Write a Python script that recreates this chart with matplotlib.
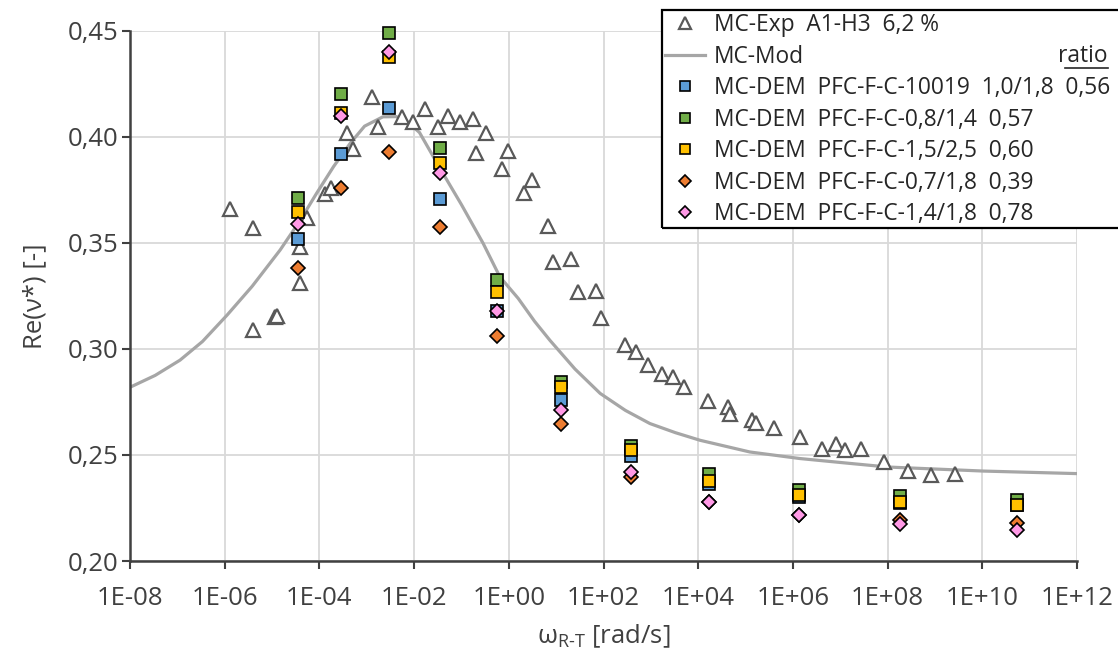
import math
import matplotlib
matplotlib.use("Agg")
import matplotlib.pyplot as plt
from matplotlib.lines import Line2D
from matplotlib.patches import Rectangle
from matplotlib.ticker import FixedLocator, NullLocator, FuncFormatter

plt.rcParams['font.family'] = ['Open Sans', 'DejaVu Sans']
plt.rcParams['mathtext.fontset'] = 'custom'
plt.rcParams['mathtext.rm'] = 'Open Sans'
plt.rcParams['mathtext.it'] = 'Open Sans'

# MC-Exp A1-H3 (triangles)
exp_w = [1.29e-6, 3.98e-6, 3.89e-6, 1.17e-5, 1.26e-5, 3.89e-5, 3.98e-5, 5.37e-5,
         1.32e-4, 1.78e-4, 3.80e-4, 5.25e-4, 1.32e-3, 1.74e-3, 5.50e-3, 9.55e-3,
         1.70e-2, 3.24e-2, 5.25e-2, 9.33e-2, 0.178, 0.204, 0.324, 0.708, 0.955,
         2.09, 3.16, 6.76, 8.71, 20.4, 29.5, 69.2, 87.1, 282, 490, 851, 1700,
         2880, 5010, 1.62e4, 4.17e4, 4.79e4, 1.38e5, 1.66e5, 4.07e5, 1.41e6,
         4.17e6, 8.13e6, 1.29e7, 2.75e7, 8.32e7, 2.75e8, 8.32e8, 2.63e9]
exp_v = [0.366, 0.357, 0.309, 0.3148, 0.3155, 0.348, 0.331, 0.3615,
         0.373, 0.3757, 0.402, 0.394, 0.4186, 0.4044, 0.4094, 0.407,
         0.413, 0.4047, 0.4098, 0.407, 0.4083, 0.3925, 0.402, 0.3846, 0.3933,
         0.3733, 0.3796, 0.358, 0.341, 0.3426, 0.327, 0.3274, 0.3146, 0.302,
         0.2983, 0.2923, 0.288, 0.2868, 0.282, 0.2755, 0.2724, 0.2695, 0.2664,
         0.2651, 0.2625, 0.2585, 0.253, 0.255, 0.2522, 0.2527, 0.2467, 0.2423,
         0.2404, 0.2409]

# MC-Mod (model curve)
mod_w = [1e-8, 3.4e-8, 1.14e-7, 3.4e-7, 1.12e-6, 3.8e-6, 1.48e-5, 3.9e-5,
         8.7e-5, 2.0e-4, 4.47e-4, 9.0e-4, 2.19e-3, 4.2e-3, 6.46e-3, 1.3e-2,
         3.55e-2, 0.10, 0.288, 0.646, 1.58, 3.5, 7.41, 25, 85.1, 290, 955,
         3300, 1.1e4, 1.23e5, 1.41e6, 1.62e7, 1.02e8, 1.05e10, 1e12]
mod_v = [0.2819, 0.2875, 0.2947, 0.3035, 0.3159, 0.3295, 0.3466, 0.3605,
         0.3733, 0.3860, 0.3969, 0.4050, 0.4094, 0.4095, 0.4080, 0.4020,
         0.3850, 0.3680, 0.3497, 0.3340, 0.3238, 0.3130, 0.3040, 0.2905,
         0.2790, 0.2710, 0.2648, 0.2605, 0.2569, 0.2514, 0.2483, 0.2460,
         0.2443, 0.2424, 0.2412]

# MC-DEM series
dem_w = [3.47e-5, 2.82e-4, 2.88e-3, 3.55e-2, 0.575, 12.6, 380, 1.70e4, 1.35e6, 1.86e8, 5.5e10]
dem_10019 = [0.3517, 0.3917, 0.4137, 0.3706, 0.318, 0.2758, 0.2495, 0.2362, 0.230, 0.2275, 0.2265]
dem_08_14 = [0.371, 0.420, 0.4488, 0.3948, 0.3324, 0.2842, 0.2544, 0.2408, 0.2337, 0.2308, 0.2289]
dem_15_25 = [0.3646, 0.411, 0.4377, 0.3874, 0.3266, 0.282, 0.2524, 0.2376, 0.2310, 0.2278, 0.2263]
dem_07_18 = [0.338, 0.3757, 0.393, 0.3575, 0.306, 0.2648, 0.2396, 0.2278, 0.2215, 0.2192, 0.2178]
dem_14_18 = [0.359, 0.4098, 0.440, 0.3827, 0.3178, 0.271, 0.242, 0.2278, 0.2215, 0.2176, 0.2145]

labels = ['MC-Exp  A1-H3  6,2 %',
          'MC-Mod',
          'MC-DEM  PFC-F-C-10019  1,0/1,8  0,56',
          'MC-DEM  PFC-F-C-0,8/1,4  0,57',
          'MC-DEM  PFC-F-C-1,5/2,5  0,60',
          'MC-DEM  PFC-F-C-0,7/1,8  0,39',
          'MC-DEM  PFC-F-C-1,4/1,8  0,78']

x_ticks = [1e-8, 1e-6, 1e-4, 1e-2, 1e0, 1e2, 1e4, 1e6, 1e8, 1e10, 1e12]
y_ticks = [0.20, 0.25, 0.30, 0.35, 0.40, 0.45]

W, H = 1118, 655
fig = plt.figure(figsize=(W / 100, H / 100), dpi=100)
ax = fig.add_axes([130 / W, 1 - 561 / H, (1077 - 130) / W, (561 - 30.7) / H])

ax.set_xscale('log')
ax.set_xlim(1e-8, 1e12)
ax.set_ylim(0.20, 0.45)

h_exp, = ax.plot(exp_w, exp_v, ls='none', marker='^', ms=10, mfc='white',
                 mec='#595959', mew=1.6, zorder=3, clip_on=False)
h_mod, = ax.plot(mod_w, mod_v, color='#A6A6A6', lw=2.3, zorder=2)

dem_series = [dem_10019, dem_08_14, dem_15_25, dem_07_18, dem_14_18]
dem_colors = ['#5B9BD5', '#70AD47', '#FFC000', '#ED7D31', '#FF99E6']
dem_markers = ['s', 's', 's', 'D', 'D']
dem_sizes = [8.8, 8.8, 8.8, 7.0, 7.0]
dem_handles = []
for vals, c, m, s in zip(dem_series, dem_colors, dem_markers, dem_sizes):
    h, = ax.plot(dem_w, vals, ls='none', marker=m, ms=s, mfc=c, mec='black',
                 mew=1.2, zorder=4, clip_on=False)
    dem_handles.append(h)

ax.xaxis.set_major_locator(FixedLocator(x_ticks))
ax.xaxis.set_minor_locator(NullLocator())
ax.xaxis.set_major_formatter(FuncFormatter(lambda v, p: '1E%+03d' % round(math.log10(v))))
ax.set_yticks(y_ticks)
ax.yaxis.set_major_formatter(FuncFormatter(lambda v, p: ('%.2f' % v).replace('.', ',')))

ax.grid(True, color='#D9D9D9', lw=1.3, zorder=0)
ax.set_axisbelow(True)
for s in ['top', 'right']:
    ax.spines[s].set_visible(False)
for s in ['left', 'bottom']:
    ax.spines[s].set_color('#404040')
    ax.spines[s].set_linewidth(1.8)
ax.tick_params(axis='both', direction='out', length=6, width=1.5, color='#404040',
               labelsize=18.5, labelcolor='#404040')
ax.tick_params(axis='x', pad=12)
ax.tick_params(axis='y', pad=2)

ax.set_ylabel('Re(ν*) [-]', fontsize=18.5, color='#404040', labelpad=15)
ax.set_xlabel(r'$\mathregular{\omega_{R\text{-}T}}$ [rad/s]', fontsize=18.5,
              color='#404040', labelpad=8)

leg = ax.legend([h_exp, h_mod] + dem_handles, labels, loc='upper left',
                bbox_to_anchor=(662 / W, 1 - 10 / H), bbox_transform=fig.transFigure,
                fontsize=16.4, frameon=True, fancybox=False, edgecolor='none',
                facecolor='white', framealpha=1, borderaxespad=0, borderpad=0.14,
                labelspacing=0.33, handlelength=1.75, handletextpad=0.38,
                markerscale=0.85)
for t in leg.get_texts():
    t.set_color('#262626')
leg.set_zorder(10)

# legend box runs past the right edge of the picture, as in the original
fig.add_artist(Rectangle((662 / W, 1 - 228 / H), (1140 - 662) / W, (228 - 10) / H,
                         transform=fig.transFigure, fill=False,
                         edgecolor='black', lw=1.6, zorder=5))
fig.add_artist(Rectangle((662 / W, 1 - 228 / H), (1140 - 662) / W, (228 - 10) / H,
                         transform=fig.transFigure, facecolor='white',
                         edgecolor='none', zorder=-1))

fig.text(1108 / W, 1 - 56 / H, 'ratio', fontsize=16.4, color='#262626',
         ha='right', va='center', zorder=11)
fig.add_artist(Line2D([1065 / W, 1108 / W], [1 - 68 / H, 1 - 68 / H],
                      color='#262626', lw=1.2, zorder=11))

fig.savefig('out.png', dpi=100)
